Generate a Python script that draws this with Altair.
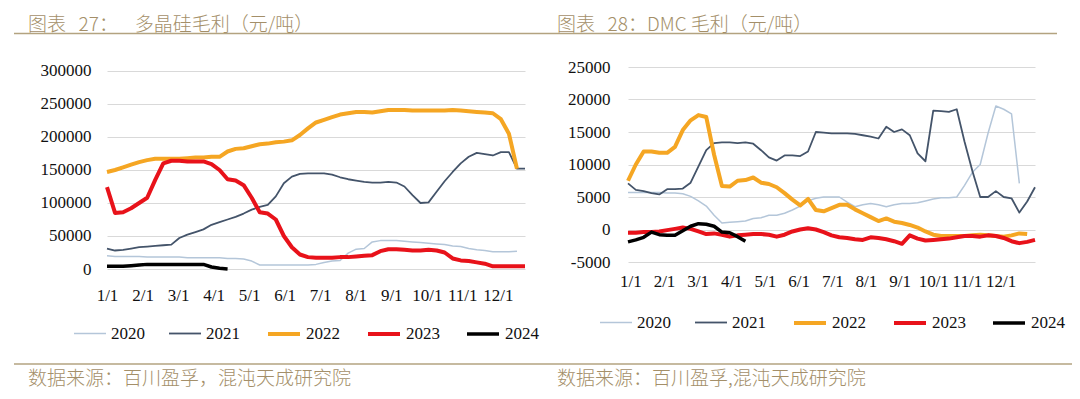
import altair as alt
import pandas as pd

# ---------------- data ----------------
years = ["2020", "2021", "2022", "2023", "2024"]
month_labels = ["1/1", "2/1", "3/1", "4/1", "5/1", "6/1", "7/1", "8/1", "9/1", "10/1", "11/1", "12/1"]

NB = "\u00a0"
left_title = "图表" + NB * 3 + "27：" + NB * 4 + "多晶硅毛利（元/吨）"
right_title = "图表" + NB * 3 + "28：DMC" + NB + "毛利（元/吨）"
left_source = "数据来源：百川盈孚，混沌天成研究院"
right_source = "数据来源：百川盈孚,混沌天成研究院"

left_yticks = [0, 50000, 100000, 150000, 200000, 250000, 300000]
right_yticks = [-5000, 0, 5000, 10000, 15000, 20000, 25000]

# 多晶硅毛利 (weekly)
poly_2020 = [20000, 19000, 19000, 19000, 19000, 18000, 18000, 18000, 18000, 18000,
             17000, 17000, 17000, 17000, 17000, 16000, 16000, 15000, 12000, 6000,
             6000, 6000, 6000, 6000, 6000, 6000, 7000, 10000, 12000, 13000,
             24000, 30000, 31000, 41000, 43000, 43000, 43000, 42000, 41000, 40000,
             39000, 38000, 37000, 35000, 34000, 31000, 29000, 28000, 26000, 26000,
             26000, 27000]
poly_2021 = [31000, 28000, 29000, 31000, 33000, 34000, 35000, 36000, 37000, 47000,
             52000, 56000, 60000, 67000, 71000, 75000, 79000, 84000, 90000, 94000,
             97000, 110000, 130000, 140000, 144000, 145000, 145000, 145000, 143000, 139000,
             136000, 134000, 132000, 131000, 131000, 132000, 131000, 125000, 112000, 100000,
             101000, 117000, 133000, 147000, 160000, 170000, 176000, 174000, 172000, 177000,
             177000, 152000, 152000]
poly_2022 = [147000, 150000, 154000, 158000, 162000, 165000, 167000, 167000, 167000, 167000,
             168000, 169000, 169000, 170000, 170000, 178000, 182000, 183000, 186000, 189000,
             190000, 192000, 193000, 195000, 203000, 213000, 222000, 226000, 230000, 234000,
             236000, 238000, 238000, 237000, 239000, 241000, 241000, 241000, 240000, 240000,
             240000, 240000, 240000, 241000, 240000, 239000, 238000, 237000, 236000, 227000,
             205000, 152000]
poly_2023 = [124000, 85000, 86000, 92000, 100000, 108000, 135000, 160000, 164000, 164000,
             163000, 163000, 163000, 159000, 150000, 136000, 134000, 127000, 108000, 86000,
             84000, 75000, 50000, 33000, 22000, 18000, 17000, 17000, 17000, 18000,
             18000, 19000, 20000, 21000, 27000, 30000, 30000, 29000, 28000, 28000,
             29000, 28000, 25000, 16000, 13000, 12000, 10000, 8000, 4000, 4000,
             4000, 4000, 4000]
poly_2024 = [4000, 4000, 4000, 5000, 6000, 7000, 7000, 7000, 7000, 7000,
             7000, 7000, 7000, 3000, 1000, 0]

# DMC 毛利 (weekly)
dmc_2020 = [5700, 5700, 5700, 5700, 5700, 5600, 5600, 5500, 5100, 4400,
            3600, 2200, 1000, 1100, 1200, 1300, 1700, 1800, 2200, 2200,
            2500, 3000, 3600, 4400, 4800, 5000, 5000, 5000, 4200, 3500,
            3800, 4000, 3800, 3500, 3800, 4000, 4000, 4100, 4400, 4700,
            4900, 4900, 5000, 6800, 8800, 10000, 14800, 19000, 18500, 17800,
            7100]
dmc_2021 = [7100, 6100, 5900, 5600, 5400, 6200, 6200, 6300, 7200, 9700,
            12200, 13300, 13400, 13400, 13300, 13400, 13200, 12200, 11100, 10600,
            11400, 11400, 11300, 12000, 15000, 14900, 14800, 14800, 14800, 14700,
            14500, 14300, 14000, 15800, 15000, 15400, 14500, 11700, 10500, 18300,
            18200, 18100, 18500, 13500, 9000, 5000, 5000, 5900, 5000, 4800,
            2600, 4300, 6500]
dmc_2022 = [7500, 10000, 12000, 12000, 11800, 11800, 12700, 15300, 16800, 17600,
            17300, 11500, 6700, 6600, 7500, 7600, 8000, 7200, 7000, 6500,
            5600, 4600, 3700, 4700, 3000, 2800, 3300, 3800, 3800, 3100,
            2500, 1900, 1300, 1700, 1200, 1000, 700, 300, -300, -800,
            -1000, -1000, -1000, -1000, -900, -800, -900, -1000, -1100, -900,
            -600, -700]
dmc_2023 = [-500, -500, -400, -400, -300, -100, 100, 300, 100, -300,
            -700, -600, -800, -1100, -900, -800, -700, -700, -800, -1100,
            -800, -300, 0, 200, 0, -400, -900, -1200, -1300, -1500,
            -1600, -1200, -1300, -1500, -1800, -2200, -900, -1400, -1700, -1600,
            -1500, -1400, -1200, -1000, -1000, -1100, -900, -1000, -1300, -1800,
            -2100, -1900, -1600]
dmc_2024 = [-1900, -1600, -1200, -400, -800, -900, -900, -200, 500, 900,
            800, 500, -400, -500, -1100, -1800]

# ---------------- style ----------------
colors = ["#b4c6d9", "#44546a", "#f5a623", "#e8121a", "#000000"]
widths = [1.5, 1.8, 4.0, 4.0, 3.5]
TAN = "#a48f69"
LINE_TAN = "#b3a380"
SERIF = "Liberation Serif"
CJK = "Noto Sans CJK SC"
LABEL = "#111111"


def to_long(series):
    rows = []
    for yr, vals in zip(years, series):
        for i, v in enumerate(vals):
            rows.append({"year": yr, "week": i, "value": v})
    return pd.DataFrame(rows)


def month_expr(step, offset):
    arr = "[" + ",".join("'%s'" % m for m in month_labels) + "]"
    return "%s[round((datum.value - %s) / %s)]" % (arr, offset, step)


def make_legend(lx, ly):
    return alt.Legend(title=None, orient="none", legendX=lx, legendY=ly,
                      direction="horizontal", symbolType="stroke", symbolSize=1024,
                      labelFont=SERIF, labelFontSize=17, labelColor=LABEL,
                      labelOffset=4, columnPadding=20, padding=0)


def lines_chart(df, ydomain, yticks, xstep, xoff, xpad, ypad, lx, ly):
    xticks = [round(xoff + k * xstep, 3) for k in range(12)]
    return alt.Chart(df).mark_line(strokeJoin="round").encode(
        x=alt.X("week:Q", scale=alt.Scale(domain=[0, 52], nice=False, zero=False),
                axis=alt.Axis(title=None, values=xticks, labelExpr=month_expr(xstep, xoff),
                              grid=False, ticks=False, tickSize=0, domain=False,
                              labelPadding=xpad, labelFlush=False, labelOverlap=False,
                              labelFont=SERIF, labelFontSize=17, labelColor=LABEL)),
        y=alt.Y("value:Q", scale=alt.Scale(domain=ydomain, nice=False, zero=False),
                axis=alt.Axis(title=None, values=yticks, labelExpr="'' + datum.value",
                              grid=True, gridColor="#d9d9d9", gridWidth=1,
                              ticks=False, tickSize=0, domain=False, labelPadding=ypad,
                              labelFlush=False, labelOverlap=False,
                              labelFont=SERIF, labelFontSize=17, labelColor=LABEL)),
        color=alt.Color("year:N", scale=alt.Scale(domain=years, range=colors),
                        legend=make_legend(lx, ly)),
        strokeWidth=alt.StrokeWidth("year:N",
                                    scale=alt.Scale(type="ordinal", domain=years, range=widths),
                                    legend=make_legend(lx, ly)),
    )


def text_layer(txt, x, y, size):
    return alt.Chart(pd.DataFrame({"t": [txt]})).mark_text(
        align="left", baseline="middle", font=CJK, fontSize=size, fontWeight=300, color=TAN
    ).encode(text="t:N", x=alt.value(x), y=alt.value(y))


def rule_layer(x, x2, y):
    return alt.Chart(pd.DataFrame({"r": [0]})).mark_rule(
        color=LINE_TAN, strokeWidth=1.5
    ).encode(x=alt.value(x), x2=alt.value(x2), y=alt.value(y))


left_lines = lines_chart(to_long([poly_2020, poly_2021, poly_2022, poly_2023, poly_2024]),
                         [0, 306060], left_yticks, 4.42, 0, 18, 16, -34, 249)
right_lines = lines_chart(to_long([dmc_2020, dmc_2021, dmc_2022, dmc_2023, dmc_2024]),
                          [-5000, 25000], right_yticks, 4.30, 0.3, 11, 18, -29, 238)

left = alt.layer(
    left_lines,
    text_layer(left_title, -79, -42.5, 19),
    rule_layer(-93, 950, -33.5),
    rule_layer(-93, 967, 297),
    text_layer(left_source, -79, 312, 19),
).properties(width=418, height=202)

right = alt.layer(
    right_lines,
    text_layer(right_title, -71, -42.5, 19),
    text_layer(right_source, -71, 312, 19),
).properties(width=407, height=195)

chart = alt.hconcat(left, right, spacing=103, bounds="flush").resolve_scale(
    x="independent", y="independent", color="independent", strokeWidth="independent"
).resolve_legend(
    color="independent", strokeWidth="independent"
).properties(
    autosize=alt.AutoSizeParams(type="none"),
    padding={"left": 99, "top": 59, "right": 965, "bottom": 324},
    background="white",
).configure_view(stroke="transparent")

chart.save("out.html", embed_options={"renderer": "svg", "actions": False})
